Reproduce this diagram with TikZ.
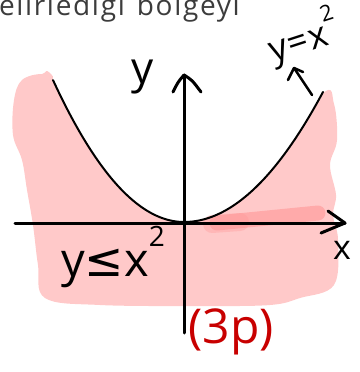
\documentclass[tikz,border=0pt]{standalone}
\usepackage{fontspec}
\setmainfont{Open Sans}
\newfontfamily\symfont{DejaVu Sans}
\newfontfamily\titlefont[LetterSpace=6]{Open Sans}
\definecolor{pinkfill}{RGB}{255,201,201}
\definecolor{pinkdark}{RGB}{255,150,150}
\definecolor{notered}{RGB}{200,0,0}
\definecolor{pencil}{RGB}{60,60,60}
\tikzset{
  axisline/.style={line width=3pt, line cap=round, line join=round, black},
  curveline/.style={line width=2pt, line cap=round, black},
  hand/.style={inner sep=0pt, outer sep=0pt, black},
}
\begin{document}
\begin{tikzpicture}[x=1pt,y=-1pt]
\useasboundingbox (0,0) rectangle (359,372);
\clip (0,0) rectangle (359,372);
% top text (cut off)
\node[hand, text=pencil, anchor=base west, font=\titlefont\fontsize{28}{28}\selectfont] (title) at (-1,15) {elirlediği\hspace{12pt}bölgeyi};
% shaded region
\fill[pinkfill] plot[smooth cycle, tension=0.6] coordinates {
  (22,80) (42,74) (56,80) (120,170) (184,200) (260,170) (322,94)
  (334,104) (337,140) (330,165) (336,195) (333,215) (338,240) (334,285)
  (300,298) (270,305) (200,306) (100,305) (45,298) (38,265) (33,225)
  (27,190) (22,160) (13,135) (14,100)};
\fill[white] plot[domain=53:184, samples=60] (\x, {222-0.827*((\x-184)/10)^2})
  -- plot[domain=184:323, samples=60] (\x, {222-0.673*((\x-184)/10)^2})
  -- (323,40) -- (53,40) -- cycle;
\draw[pinkdark, opacity=0.6, line width=15pt, line cap=round] (217,223) -- (318,213);
\draw[pinkdark, opacity=0.35, line width=18pt, line cap=round] (212,224) -- (240,222);
% axes
\coordinate (xl) at (15,223);
\coordinate (xr) at (345,223);
\coordinate (yb) at (184,333);
\coordinate (yt) at (184,75);
\draw[axisline] (xl) -- (xr);
\draw[axisline] (328,211) -- (xr) -- (321,233);
\draw[axisline] (yb) -- (yt);
\draw[axisline] (173,92) .. controls (178,82) .. (yt) .. controls (192,80) .. (201,92);
% parabola
\draw[curveline] plot[domain=53:184, samples=60] (\x, {222-0.827*((\x-184)/10)^2});
\draw[curveline] plot[domain=184:323, samples=60] (\x, {222-0.673*((\x-184)/10)^2});
% labels
\node[hand, font=\fontsize{44}{44}\selectfont] (ylab) at (143,77) {y};
\node[hand, font=\fontsize{34}{34}\selectfont] (xlab) at (342,250) {x};
\node[hand, rotate=18, font=\fontsize{36}{36}\selectfont] (eqn) at (303,37)
  {y\hspace{1pt}=\hspace{1pt}x\raisebox{1.2ex}{\fontsize{22}{22}\selectfont 2}};
\coordinate (ptail) at (312,95);
\coordinate (phead) at (294,68);
\draw[line width=2.5pt, line cap=round, line join=round] (ptail) -- (phead);
\draw[line width=2.5pt, line cap=round, line join=round] (288,80) -- (phead) -- (303,72);
\node[hand, font=\fontsize{47}{47}\selectfont] (ineq) at (113,257)
  {y{\symfont ≤}x\raisebox{1.2ex}{\fontsize{28}{28}\selectfont 2}};
\node[hand, text=notered, font=\fontsize{48}{48}\selectfont] (pts) at (231,332) {(3p)};
\end{tikzpicture}
\end{document}
